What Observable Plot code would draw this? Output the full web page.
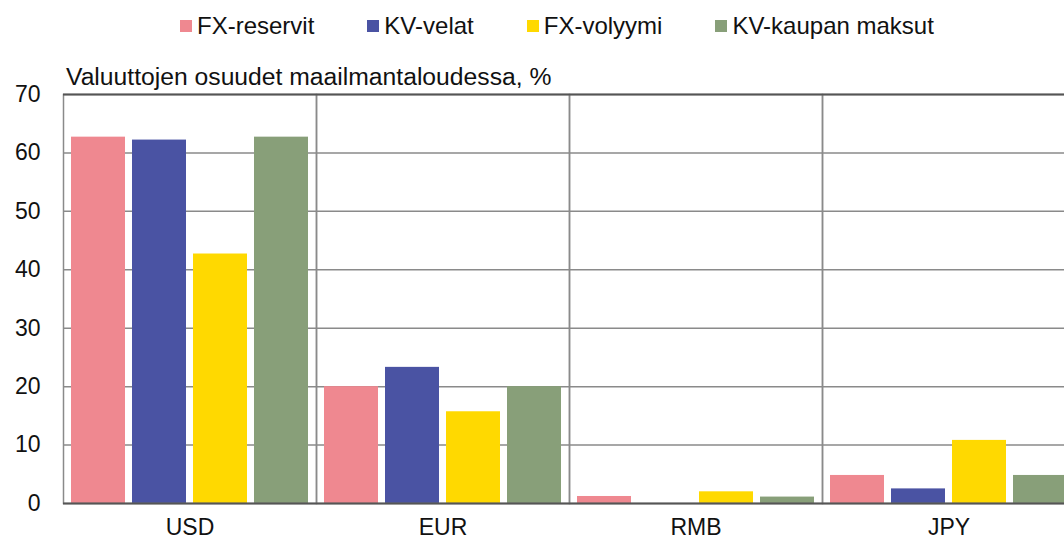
<!DOCTYPE html>
<html>
<head>
<meta charset="utf-8">
<script src="https://cdn.jsdelivr.net/npm/d3@7"></script>
<script src="https://cdn.jsdelivr.net/npm/@observablehq/plot@0.6"></script>
<style>
  html, body { margin: 0; padding: 0; background: #fff; overflow: hidden; width: 1064px; height: 542px; }
  body { position: relative; font-family: "Liberation Sans", Arial, sans-serif; color: #111; }
  #legend { position: absolute; left: 180px; top: 12px; display: flex; align-items: center; font-size: 24px; white-space: nowrap; }
  .item { display: flex; align-items: center; margin-right: 53px; }
  .sw { width: 12px; height: 12px; margin-right: 5px; }
  #subtitle { position: absolute; left: 66px; top: 63px; font-size: 24.7px; white-space: nowrap; }
  #chart { position: absolute; left: 0; top: 50px; width: 1076px; }
  #chart svg { max-width: none !important; }
</style>
</head>
<body>
<div id="legend"></div>
<div id="subtitle">Valuuttojen osuudet maailmantaloudessa, %</div>
<div id="chart"></div>
<script>
const categories = ["USD", "EUR", "RMB", "JPY"];
const series = ["FX-reservit", "KV-velat", "FX-volyymi", "KV-kaupan maksut"];
const colors = ["#ef8890", "#4a53a3", "#ffd900", "#889f79"];
const fxReservit = [62.7, 20.0, 1.2, 4.8];
const kvVelat = [62.2, 23.3, 0, 2.5];
const fxVolyymi = [42.7, 15.7, 2.0, 10.8];
const kvKaupanMaksut = [62.7, 20.0, 1.1, 4.8];
const yTicks = [0, 10, 20, 30, 40, 50, 60, 70];
const gridTicks = [10, 20, 30, 40, 50, 60];

const valuesBySeries = [fxReservit, kvVelat, fxVolyymi, kvKaupanMaksut];
const table = [];
categories.forEach((c, i) => {
  series.forEach((s, j) => table.push({category: c, series: s, value: valuesBySeries[j][i]}));
});

// legend
const legend = document.getElementById("legend");
series.forEach((s, j) => {
  const it = document.createElement("div");
  it.className = "item";
  const sw = document.createElement("span");
  sw.className = "sw";
  sw.style.background = colors[j];
  const t = document.createElement("span");
  t.textContent = s;
  it.append(sw, t);
  legend.append(it);
});

const plot = Plot.plot({
  width: 1076,
  height: 492,
  marginLeft: 61,
  marginRight: 0,
  marginTop: 44,
  marginBottom: 39,
  style: {fontFamily: "'Liberation Sans', Arial, sans-serif", fontSize: "23px", color: "#111", background: "transparent", maxWidth: "none"},
  facet: {data: table, x: "category", marginTop: 0, marginRight: 0, marginBottom: 0, marginLeft: 0},
  fx: {domain: categories, padding: 0, axis: "bottom", tickSize: 0, tickPadding: 15, label: null},
  x: {domain: series, paddingInner: 0.12, paddingOuter: 0.13, axis: null},
  y: {domain: [0, 70], ticks: yTicks, tickSize: 0, tickPadding: 23, label: null, tickFormat: d => String(d)},
  color: {domain: series, range: colors},
  marks: [
    Plot.ruleY(gridTicks, {stroke: "#8a8a8a", strokeWidth: 1.5}),
    Plot.barY(table, {x: "series", y: "value", fill: "series"}),
    Plot.frame({stroke: "#8a8a8a", strokeWidth: 1.5}),
    Plot.ruleY([0, 70], {stroke: "#555", strokeWidth: 2})
  ]
});
document.getElementById("chart").append(plot);
</script>
</body>
</html>
